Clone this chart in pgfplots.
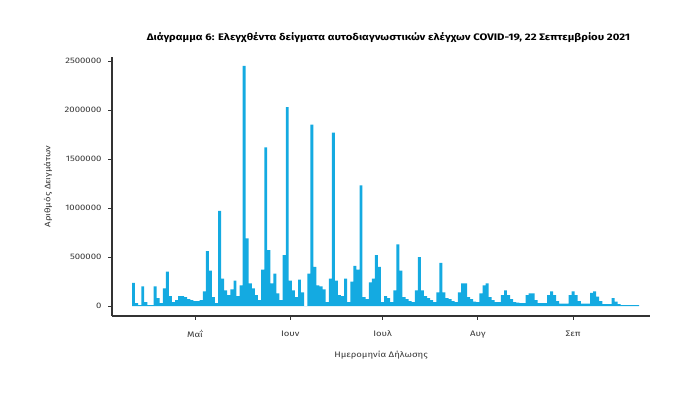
\documentclass[border=0pt]{standalone}
\usepackage{fontspec}
\setmainfont{Fira Sans}[FakeStretch=1.2]
\usepackage{pgfplots}
\pgfplotsset{compat=1.18}
\usepackage{pgfplotstable}
\definecolor{barblue}{RGB}{20,170,225}
\definecolor{axgray}{RGB}{51,51,51}
\definecolor{txtgray}{RGB}{55,55,55}

% day index: 0 = 1 May 2021
\pgfplotstableread{
d v
-20 235000
-19 30000
-18 10000
-17 200000
-16 40000
-15 10000
-14 10000
-13 200000
-12 80000
-11 30000
-10 180000
-9 350000
-8 100000
-7 40000
-6 60000
-5 100000
-4 100000
-3 90000
-2 70000
-1 60000
0 50000
1 50000
2 60000
3 150000
4 560000
5 360000
6 90000
7 30000
8 970000
9 280000
10 160000
11 110000
12 170000
13 260000
14 100000
15 210000
16 2450000
17 690000
18 230000
19 180000
20 110000
21 60000
22 370000
23 1620000
24 570000
25 230000
26 330000
27 130000
28 60000
29 520000
30 2030000
31 260000
32 160000
33 90000
34 270000
35 140000
36 0
37 330000
38 1850000
39 400000
40 210000
41 200000
42 170000
43 40000
44 280000
45 1770000
46 260000
47 110000
48 100000
49 280000
50 40000
51 250000
52 410000
53 370000
54 1230000
55 90000
56 70000
57 240000
58 280000
59 520000
60 400000
61 40000
62 100000
63 80000
64 40000
65 160000
66 630000
67 360000
68 90000
69 70000
70 50000
71 40000
72 160000
73 500000
74 160000
75 100000
76 80000
77 60000
78 40000
79 140000
80 440000
81 140000
82 80000
83 70000
84 50000
85 40000
86 140000
87 230000
88 230000
89 90000
90 70000
91 45000
92 40000
93 130000
94 210000
95 230000
96 90000
97 60000
98 40000
99 40000
100 110000
101 160000
102 110000
103 70000
104 40000
105 35000
106 30000
107 30000
108 110000
109 130000
110 130000
111 60000
112 30000
113 30000
114 30000
115 110000
116 150000
117 110000
118 50000
119 25000
120 25000
121 25000
122 110000
123 150000
124 110000
125 50000
126 25000
127 25000
128 25000
129 135000
130 150000
131 95000
132 50000
133 20000
134 20000
135 20000
136 80000
137 45000
138 20000
139 10000
140 10000
141 10000
142 10000
143 10000
144 10000
}\datatable

\begin{document}
\begin{tikzpicture}
\path[use as bounding box] (0bp,0bp) rectangle (699bp,395bp);
\node[font=\bfseries\fontsize{9.5}{11}\selectfont, text=black] at (388.5bp,357bp)
  {Διάγραμμα 6: Ελεγχθέντα δείγματα αυτοδιαγνωστικών ελέγχων COVID-19, 22 Σεπτεμβρίου 2021};
\begin{axis}[
  at={(112bp,79bp)}, anchor=south west,
  scale only axis, width=538bp, height=259bp,
  xmin=-27, xmax=148, ymin=-102000, ymax=2541000,
  axis lines=left,
  axis line style={-, draw=axgray, line width=1.3bp},
  every tick/.style={draw=axgray, line width=0.8bp},
  tick align=outside, major tick length=4bp,
  xtick={0,31,61,92,123},
  xticklabels={Μαΐ,Ιουν,Ιουλ,Αυγ,Σεπ},
  ytick={0,500000,1000000,1500000,2000000,2500000},
  scaled y ticks=false,
  yticklabel style={/pgf/number format/fixed, /pgf/number format/1000 sep={}, /pgf/number format/assume math mode=true, xshift=-3bp},
  xticklabel style={yshift=-7bp},
  tick label style={font=\fontsize{8}{10}\selectfont, text=txtgray},
  xlabel={Ημερομηνία Δήλωσης},
  ylabel={Αριθμός Δειγμάτων},
  label style={font=\fontsize{8}{10}\selectfont, text=txtgray},
  x label style={at={(axis description cs:0.5,0)}, anchor=center, yshift=-39bp},
  y label style={at={(axis description cs:-0.119,0.5)}, anchor=center},
]
\addplot[ybar, bar width=0.95, fill=barblue, draw=none] table[x=d,y=v]{\datatable};
\end{axis}
\end{tikzpicture}
\end{document}
